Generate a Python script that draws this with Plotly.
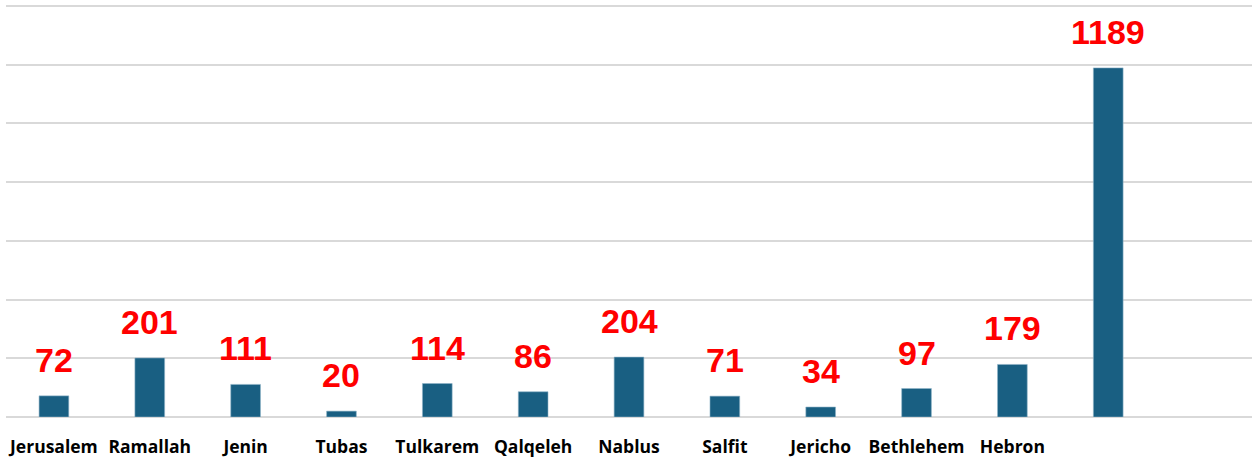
import plotly.graph_objects as go

categories = ["Jerusalem", "Ramallah", "Jenin", "Tubas", "Tulkarem", "Qalqeleh",
              "Nablus", "Salfit", "Jericho", "Bethlehem", "Hebron", ""]
values = [72, 201, 111, 20, 114, 86, 204, 71, 34, 97, 179, 1189]
label_texts = [str(v) for v in values]
grid_values = [0, 200, 400, 600, 800, 1000, 1200, 1400]

xs = list(range(len(categories)))

fig = go.Figure()
fig.add_trace(go.Bar(
    x=xs, y=values, width=0.31,
    marker=dict(color="#195F82", line=dict(color="#8fb3c8", width=0.6)),
    hoverinfo="skip",
))

for x, v, t in zip(xs, values, label_texts):
    fig.add_annotation(x=x, y=v, text=f"<b>{t}</b>", showarrow=False,
                       yanchor="bottom", yshift=15,
                       font=dict(family="Liberation Sans, Arial", size=34, color="#FF0000"))

fig.update_layout(
    width=1252, height=457,
    margin=dict(l=6, r=0, t=3, b=40),
    paper_bgcolor="white", plot_bgcolor="white",
    showlegend=False,
    xaxis=dict(range=[-0.5, 12.5], tickvals=xs,
               ticktext=[f"<b>{c}</b>" for c in categories],
               tickfont=dict(family="Open Sans", size=17.5, color="#000000"),
               showgrid=False, zeroline=False, showline=False, ticks="",
               ticklabelstandoff=17, automargin=False),
    yaxis=dict(range=[0, 1410], tickvals=grid_values,
               showticklabels=False,
               showgrid=True, gridcolor="#D9D9D9", gridwidth=2,
               zeroline=True, zerolinecolor="#D9D9D9", zerolinewidth=2,
               showline=False, ticks=""),
)

fig.write_html("out.html", config={"displayModeBar": False},
               post_script="document.body.style.margin='0';document.body.style.overflow='hidden';")
